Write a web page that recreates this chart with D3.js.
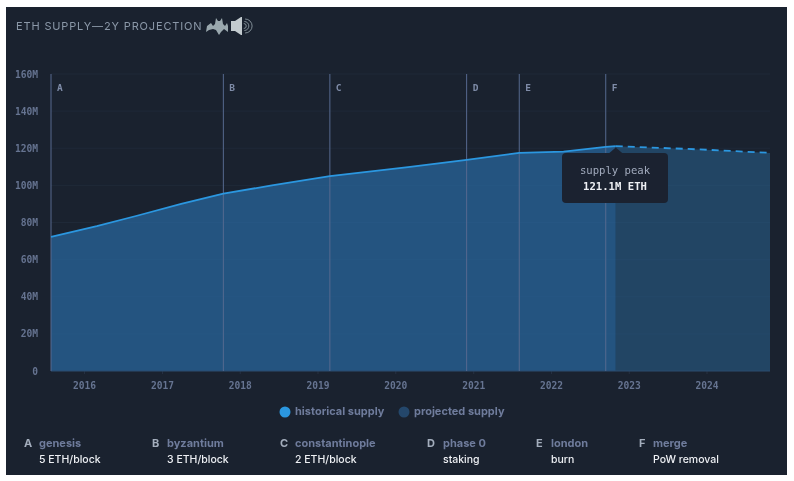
<!DOCTYPE html>
<html lang="en">
<head>
<meta charset="UTF-8">
<title>ETH supply - 2y projection</title>
<style>
  html, body { margin: 0; padding: 0; background: #fff; }
  svg { display: block; filter: blur(0.45px); }
  .mono { font-family: "DejaVu Sans Mono", monospace; }
  .sans { font-family: Inter, "Noto Sans", sans-serif; }
  .axis path { display: none; }
  .axis text { font-family: "DejaVu Sans Mono", monospace; font-size: 9.6px; font-weight: 700; fill: #667491; }
  .axis line { stroke: #263143; }
</style>
</head>
<body>
<svg id="chart" width="794" height="481"></svg>
<script src="https://d3js.org/d3.v7.min.js"></script>
<script>
const historicalDates = ["2015-07-30", "2016-03-01", "2016-09-01", "2017-04-01", "2017-10-16", "2018-06-01", "2019-02-28", "2020-03-01", "2020-12-01", "2021-08-05", "2022-03-01", "2022-09-15", "2022-11-01"];
const historicalValues = [72.2, 78, 83.5, 90, 95.5, 100, 105, 109.8, 113.7, 117.5, 118.2, 120.7, 121.1];
const projectedDates = ["2022-11-01", "2023-06-01", "2024-01-01", "2024-10-25"];
const projectedValues = [121.1, 120.2, 119.2, 117.5];

const yTicks = [0, 20, 40, 60, 80, 100, 120, 140, 160];
const xTickYears = [2016, 2017, 2018, 2019, 2020, 2021, 2022, 2023, 2024];

const markerLetters = ["A", "B", "C", "D", "E", "F"];
const markerDates = ["2015-07-30", "2017-10-16", "2019-02-28", "2020-12-01", "2021-08-05", "2022-09-15"];
const markerNames = ["genesis", "byzantium", "constantinople", "phase 0", "london", "merge"];
const markerNotes = ["5 ETH/block", "3 ETH/block", "2 ETH/block", "staking", "burn", "PoW removal"];
const footerLetterX = [24, 152, 280, 427, 536, 639];
const footerTextX = [39, 167, 295, 443, 551, 653];

const legendLabels = ["historical supply", "projected supply"];

const parse = d3.utcParse("%Y-%m-%d");
const svg = d3.select("#chart");

// dark panel, the reference has a white edge around it
svg.append("rect").attr("x", 6).attr("y", 7).attr("width", 781).attr("height", 468).attr("fill", "#1a222f");

const x = d3.scaleUtc().domain([parse("2015-07-30"), parse("2024-10-25")]).range([51, 770]);
const y = d3.scaleLinear().domain([0, 160]).range([371, 74]);

const historical = historicalDates.map((d, i) => ({ date: parse(d), value: historicalValues[i] }));
const projected = projectedDates.map((d, i) => ({ date: parse(d), value: projectedValues[i] }));

// gridlines
svg.append("g").selectAll("line").data(yTicks).enter().append("line")
  .attr("x1", 51).attr("x2", 770)
  .attr("y1", d => y(d)).attr("y2", d => y(d))
  .attr("stroke", "#1f2938").attr("stroke-width", 1);

// axes
svg.append("g").attr("class", "axis")
  .attr("transform", "translate(51,0)")
  .call(d3.axisLeft(y).tickValues(yTicks).tickSize(0).tickPadding(13)
    .tickFormat(d => d === 0 ? "0" : d + "M"));

svg.append("g").attr("class", "axis")
  .attr("transform", "translate(0,371)")
  .call(d3.axisBottom(x).tickValues(xTickYears.map(yr => new Date(Date.UTC(yr, 0, 1))))
    .tickSize(3).tickPadding(8).tickFormat(d3.utcFormat("%Y")));

// areas
const area = d3.area().x(d => x(d.date)).y0(y(0)).y1(d => y(d.value));
svg.append("path").datum(historical).attr("d", area).attr("fill", "#2a70ad").attr("fill-opacity", 0.64);
svg.append("path").datum(projected).attr("d", area).attr("fill", "#2a6596").attr("fill-opacity", 0.52);

// baseline
svg.append("line").attr("x1", 51).attr("x2", 770).attr("y1", y(0)).attr("y2", y(0))
  .attr("stroke", "#2a4a6c").attr("stroke-width", 1);

// marker lines
const markers = svg.append("g").selectAll("g").data(markerLetters).enter().append("g");
markers.append("line")
  .attr("x1", (d, i) => x(parse(markerDates[i])))
  .attr("x2", (d, i) => x(parse(markerDates[i])))
  .attr("y1", y(160)).attr("y2", y(0))
  .attr("stroke", "#56698f").attr("stroke-width", 1);
markers.append("text").attr("class", "mono")
  .attr("x", (d, i) => x(parse(markerDates[i])) + 6)
  .attr("y", 90.5)
  .attr("font-size", 9.5).attr("font-weight", 700).attr("fill", "#7f8ca8")
  .text(d => d);

// supply lines
const line = d3.line().x(d => x(d.date)).y(d => y(d.value));
svg.append("path").datum(historical).attr("d", line)
  .attr("fill", "none").attr("stroke", "#2b97e0").attr("stroke-width", 1.8);
svg.append("path").datum(projected).attr("d", line)
  .attr("fill", "none").attr("stroke", "#2b97e0").attr("stroke-width", 1.8).attr("stroke-dasharray", "7 5");

// title
svg.append("text").attr("class", "sans").attr("x", 16).attr("y", 30)
  .attr("font-size", 11).attr("letter-spacing", 0.85).attr("fill", "#8b98a8")
  .text("ETH SUPPLY\u20142Y PROJECTION");

// bat icon
svg.append("path")
  .attr("d", "M206 32 L207 26 L211 23 L213 26 L215 24 L216 18 L218 21 L220 21 L222 18 L223 24 L225 26 L227 23 L228 26 L228 32 L224 29 L221 32 L219 35 L216 30 L213 29 L209 30 Z")
  .attr("fill", "#9aa8ae");
// speaker icon
svg.append("path")
  .attr("d", "M231 21 L235 21 L241 17 L242 17 L242 35 L241 35 L235 31 L231 31 Z")
  .attr("fill", "#c3cbcf");
svg.append("g").attr("fill", "none").attr("stroke", "#8b98a0").attr("stroke-width", 0.9)
  .selectAll("path").data([2.5, 4.5, 7]).enter().append("path")
  .attr("d", r => `M${243 + r * 0.3} ${26 - r} A${r} ${r} 0 0 1 ${243 + r * 0.3} ${26 + r}`);

// tooltip
const peakX = x(parse("2022-11-01"));
svg.append("path")
  .attr("d", `M${peakX - 7} 153.5 L${peakX} 147.5 L${peakX + 7} 153.5 Z`)
  .attr("fill", "#1b2230");
svg.append("rect").attr("x", 562).attr("y", 153).attr("width", 106).attr("height", 50).attr("rx", 4)
  .attr("fill", "#1b2230");
svg.append("text").attr("class", "mono").attr("x", 615).attr("y", 174).attr("text-anchor", "middle")
  .attr("font-size", 10.6).attr("fill", "#a2abbd").text("supply peak");
svg.append("text").attr("class", "mono").attr("x", 615).attr("y", 190).attr("text-anchor", "middle")
  .attr("font-size", 10.6).attr("font-weight", 700).attr("fill", "#eef0f4").text("121.1M ETH");

// legend
const legendDotX = [285, 404];
const legendColors = ["#2b97e0", "#24476b"];
legendLabels.forEach((label, i) => {
  svg.append("circle").attr("cx", legendDotX[i]).attr("cy", 412).attr("r", 5.5).attr("fill", legendColors[i]);
  svg.append("text").attr("class", "sans").attr("x", legendDotX[i] + 10).attr("y", 415)
    .attr("font-size", 11).attr("font-weight", 700).attr("fill", "#6f7c9c").text(label);
});

// footer
markerLetters.forEach((letter, i) => {
  svg.append("text").attr("class", "sans").attr("x", footerLetterX[i]).attr("y", 447)
    .attr("font-size", 11).attr("font-weight", 700).attr("fill", "#a4aebd").text(letter);
  svg.append("text").attr("class", "sans").attr("x", footerTextX[i]).attr("y", 447)
    .attr("font-size", 11).attr("font-weight", 700).attr("fill", "#6f7c9c").text(markerNames[i]);
  svg.append("text").attr("class", "sans").attr("x", footerTextX[i]).attr("y", 463)
    .attr("font-size", 10.5).attr("font-weight", 500).attr("fill", "#eef0f4").text(markerNotes[i]);
});
</script>
</body>
</html>
